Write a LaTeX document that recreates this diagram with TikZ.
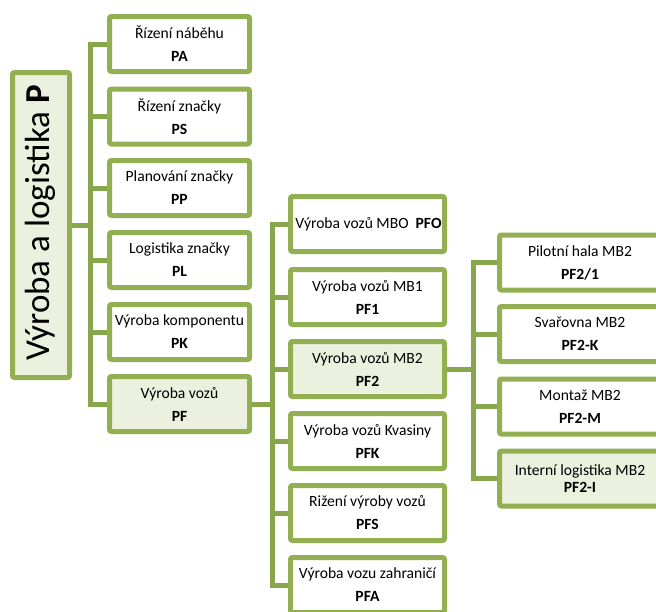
\documentclass[tikz,border=0pt]{standalone}
\usepackage{fontspec}
\setmainfont{Carlito}
\definecolor{grn}{RGB}{146,176,82}
\definecolor{cgrn}{RGB}{136,166,76}
\definecolor{lgrn}{RGB}{235,241,222}
\newcommand{\tfont}{\fontsize{15.6}{23}\selectfont}
\newcommand{\tfontb}{\fontsize{15.6}{17}\selectfont}
\begin{document}
\begin{tikzpicture}[x=1pt,y=-1pt,
  box/.style={draw=grn, line width=5pt, rounded corners=2pt, fill=white,
    align=center, font=\tfont, inner sep=0pt, minimum height=55pt},
  lcol/.style={box, minimum width=140pt},
  mcol/.style={box, minimum width=154pt},
  rcol/.style={box, minimum width=161pt},
  hl/.style={fill=lgrn},
  conn/.style={draw=cgrn, line width=5pt}]
\useasboundingbox (0,0) rectangle (656,611);

% root
\node[draw=grn, line width=5pt, rounded corners=2pt, fill=lgrn,
  minimum width=57pt, minimum height=305pt, inner sep=0pt] (root) at (41,225) {};
\node[rotate=90, inner sep=0pt, font=\fontsize{35}{40}\selectfont] (roottxt) at (40,223) {Výroba a logistika \textbf{P}};

% left column
\node[lcol] (pa) at (179.5,44) {Řízení náběhu\\\textbf{PA}};
\node[lcol] (ps) at (179.5,116.5) {Řízení značky\\\textbf{PS}};
\node[lcol] (pp) at (179.5,188) {Planování značky\\\textbf{PP}};
\node[lcol] (pl) at (179.5,260) {Logistika značky\\\textbf{PL}};
\node[lcol] (pk) at (179.5,332) {Výroba komponentu\\\textbf{PK}};
\node[lcol,hl] (pf) at (179.5,404) {Výroba vozů\\\textbf{PF}};

% middle column
\node[mcol] (pfo) at (367.5,224) {};
\node[inner sep=0pt, font=\tfont] (pfotxt) at (368.5,224) {Výroba vozů MBO\ \ \textbf{PFO}};
\node[mcol] (pf1) at (367.5,297) {Výroba vozů MB1\\\textbf{PF1}};
\node[mcol,hl] (pf2) at (367.5,369) {Výroba vozů MB2\\\textbf{PF2}};
\node[mcol] (pfk) at (367.5,441) {Výroba vozů Kvasiny\\\textbf{PFK}};
\node[mcol] (pfs) at (367.5,513) {Rižení výroby vozů\\\textbf{PFS}};
\node[mcol] (pfa) at (367.5,585) {Výroba vozu zahraničí\\\textbf{PFA}};

% right column
\node[rcol] (p21) at (580,262.5) {Pilotní hala MB2\\\textbf{PF2/1}};
\node[rcol] (p2k) at (580,334) {Svařovna MB2\\\textbf{PF2-K}};
\node[rcol] (p2m) at (580,406.5) {Montaž MB2\\\textbf{PF2-M}};
\node[rcol,hl,font=\tfontb] (p2i) at (580,478.5) {Interní logistika MB2\\\textbf{PF2-I}};

% connectors level 1
\coordinate (b1) at (90,225);
\draw[conn] (root.east) -- (b1);
\draw[conn] (pa.west) -- (b1 |- pa.west) -- (b1 |- pf.west) -- (pf.west);
\foreach \n in {ps,pp,pl,pk} \draw[conn] (b1 |- \n.west) -- (\n.west);

% connectors level 2
\coordinate (b2) at (272,404);
\draw[conn] (pf.east) -- (b2);
\draw[conn] (pfo.west) -- (b2 |- pfo.west) -- (b2 |- pfa.west) -- (pfa.west);
\foreach \n in {pf1,pf2,pfk,pfs} \draw[conn] (b2 |- \n.west) -- (\n.west);

% connectors level 3
\coordinate (b3) at (473,369);
\draw[conn] (pf2.east) -- (b3);
\draw[conn] (p21.west) -- (b3 |- p21.west) -- (b3 |- p2i.west) -- (p2i.west);
\foreach \n in {p2k,p2m} \draw[conn] (b3 |- \n.west) -- (\n.west);
\end{tikzpicture}
\end{document}
